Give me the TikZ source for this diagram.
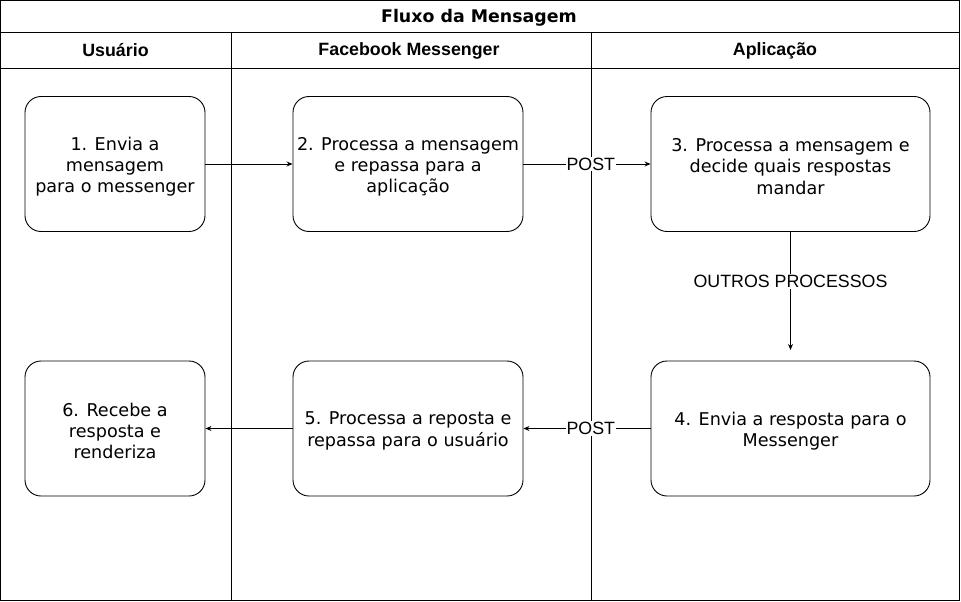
\documentclass[tikz,border=0pt]{standalone}
\usepackage{fontspec}
\setmainfont{Liberation Sans}
\newfontfamily\vfont{DejaVu Sans}
\usetikzlibrary{arrows.meta}
\begin{document}
\begin{tikzpicture}[x=1pt,y=-1pt,
  lane/.style={draw=black,line width=0.9pt},
  procbox/.style={draw=black,line width=0.9pt,rounded corners=16pt,minimum width=#1,minimum height=135pt,inner sep=0pt},
  procbox/.default=180pt,
  boxtext/.style={align=center,inner sep=0pt,font=\vfont\fontsize{17.6}{21.2}\selectfont},
  hdr/.style={font=\bfseries\fontsize{17.8}{20}\selectfont},
  flow/.style={draw=black,line width=0.9pt,-{Stealth[length=6pt,width=5pt]}},
  lbl/.style={fill=white,inner sep=1pt,font=\fontsize{17.8}{20}\selectfont}
]
\useasboundingbox (0,0) rectangle (961,602);
% lanes
\draw[lane] (0.6,0.6) rectangle (959.6,600.2);
\draw[lane] (0.6,32) -- (959.6,32);
\draw[lane] (0.6,68) -- (959.6,68);
\draw[lane] (231,32) -- (231,600.2);
\draw[lane] (591,32) -- (591,600.2);
\node[font=\vfont\bfseries\fontsize{17.4}{20}\selectfont] (title) at (479,17.5) {Fluxo da Mensagem};
\node[hdr] (h1) at (115.5,50.5) {Usuário};
\node[hdr] (h2) at (409,50.5) {Facebook Messenger};
\node[hdr] (h3) at (775,50.5) {Aplicação};
% boxes
\node[procbox=180pt] (b1) at (115,164) {};
\node[procbox=230pt] (b2) at (408,164) {};
\node[procbox=279pt] (b3) at (790.5,164) {};
\node[procbox=279pt] (b4) at (790.5,428.5) {};
\node[procbox=230pt] (b5) at (408,428.5) {};
\node[procbox=180pt] (b6) at (115,428.5) {};
\node[boxtext] (t1) at ([yshift=-2.5pt]b1.center) {1. Envia a\\mensagem\\para o messenger};
\node[boxtext] (t2) at ([yshift=-2.5pt]b2.center) {2. Processa a mensagem\\e repassa para a\\aplicação};
\node[boxtext] (t3) at ([yshift=-2.5pt]b3.center) {3. Processa a mensagem e\\decide quais respostas\\mandar};
\node[boxtext] (t4) at ([yshift=-2.5pt]b4.center) {4. Envia a resposta para o\\Messenger};
\node[boxtext] (t5) at ([yshift=-2.5pt]b5.center) {5. Processa a reposta e\\repassa para o usuário};
\node[boxtext] (t6) at ([yshift=-2.5pt]b6.center) {6. Recebe a\\resposta e\\renderiza};
% connectors
\coordinate (e3) at (790.5,350);
\draw[flow] (b1) -- (b2);
\draw[flow] (b2) -- node[lbl,pos=0.53] (p1) {POST} (b3);
\draw[flow] (b3.south) -- node[lbl,pos=0.42] (op) {OUTROS PROCESSOS} (e3);
\draw[flow] (b4) -- node[lbl,pos=0.47] (p2) {POST} (b5);
\draw[flow] (b5) -- (b6);
\end{tikzpicture}
\end{document}
